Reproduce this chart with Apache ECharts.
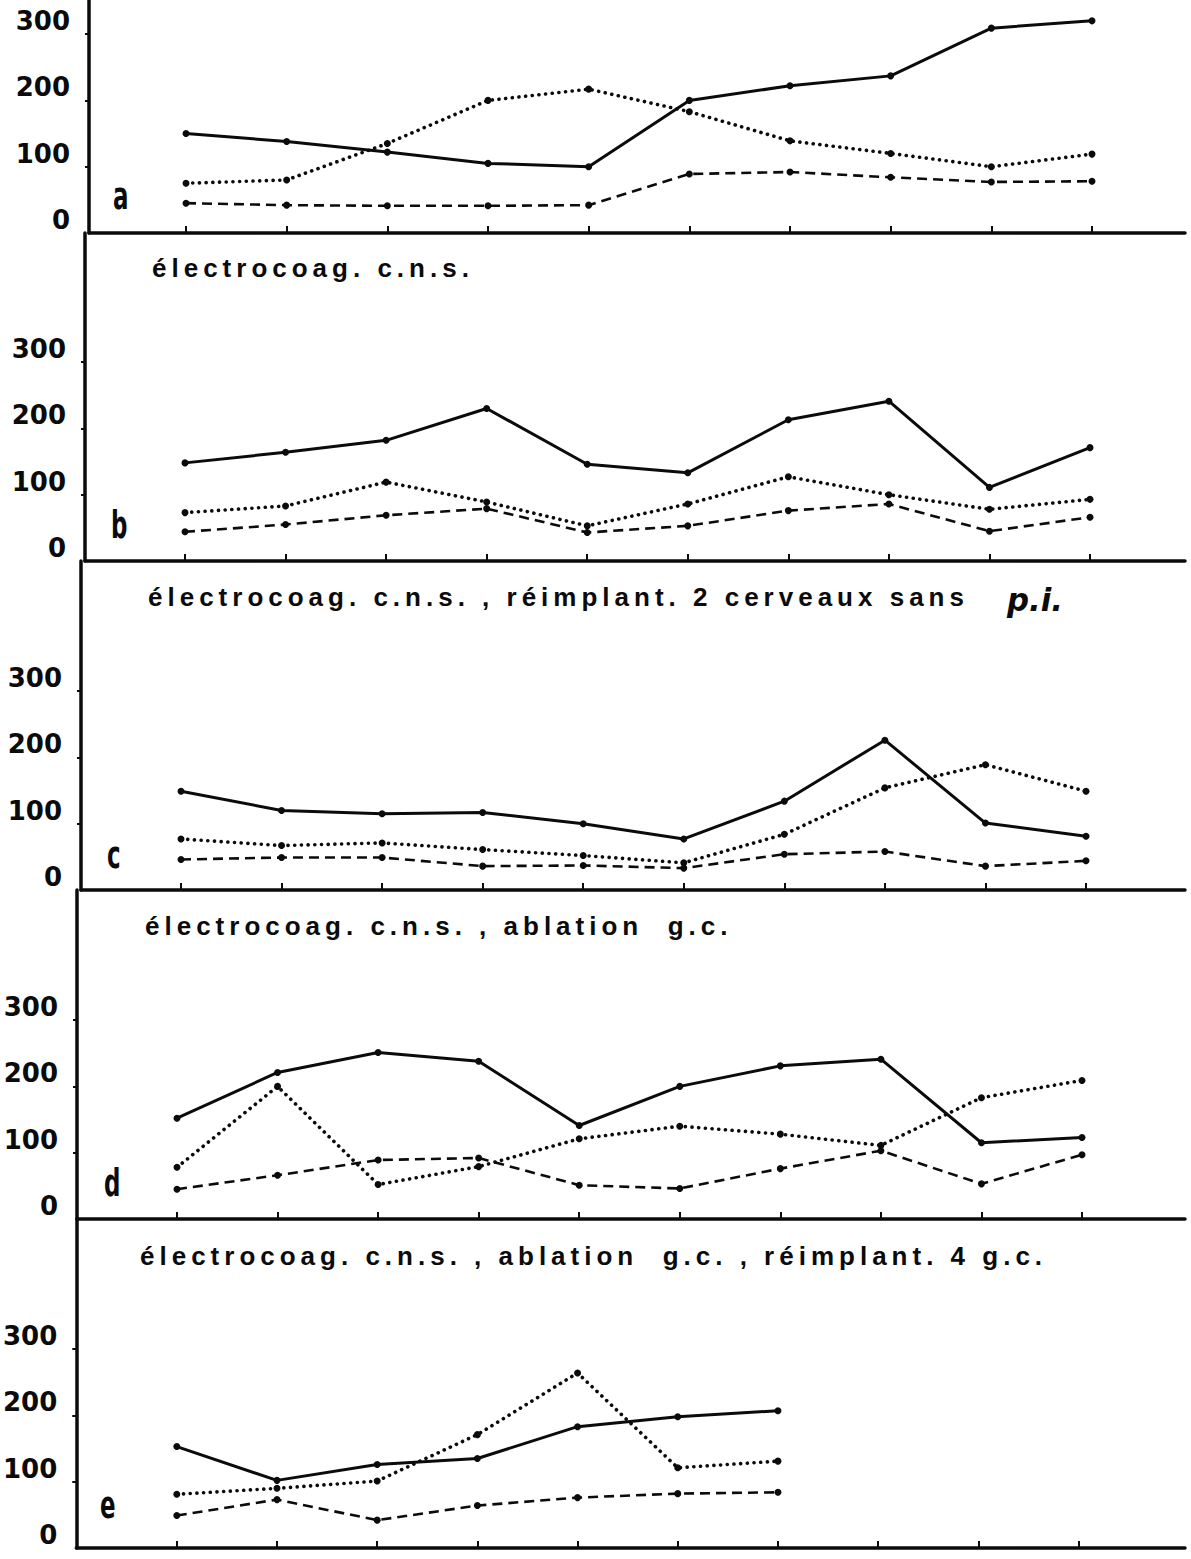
<!DOCTYPE html>
<html>
<head>
<meta charset="utf-8">
<script src="https://cdn.jsdelivr.net/npm/echarts@6/dist/echarts.min.js"></script>
<style>
  html, body { margin: 0; padding: 0; background: #fff; }
  #chart { width: 1191px; height: 1559px; }
  /* the panel captions are typeset with wide tracking */
  #chart text[style*="Liberation Sans"] { letter-spacing: 5px; }
</style>
</head>
<body>
<div id="chart"></div>
<script>
// Successive measurements (x positions) and the value ticks shown on every panel
const steps = [0, 1, 2, 3, 4, 5, 6, 7, 8, 9];
const yTicks = [0, 100, 200, 300];

// Panel a
const solidA  = [150, 138, 122, 105, 100, 200, 222, 237, 309, 320];
const dottedA = [75, 80, 135, 200, 217, 183, 139, 120, 100, 119];
const dashedA = [45, 42, 41, 41, 42, 89, 92, 84, 77, 78];

// Panel b
const solidB  = [148, 164, 182, 230, 146, 133, 213, 241, 111, 171];
const dottedB = [73, 83, 119, 89, 53, 86, 127, 100, 78, 93];
const dashedB = [44, 55, 69, 79, 43, 53, 76, 86, 45, 66];

// Panel c
const solidC  = [149, 120, 115, 117, 100, 77, 134, 226, 101, 81];
const dottedC = [77, 67, 71, 61, 52, 41, 84, 154, 189, 149];
const dashedC = [46, 49, 49, 36, 37, 33, 54, 58, 36, 44];

// Panel d
const solidD  = [152, 221, 251, 238, 141, 200, 231, 241, 115, 123];
const dottedD = [78, 200, 52, 79, 121, 140, 128, 111, 183, 209];
const dashedD = [45, 66, 89, 92, 51, 46, 76, 103, 53, 97];

// Panel e (only seven measurements)
const solidE  = [153, 102, 126, 135, 183, 198, 207];
const dottedE = [81, 90, 101, 171, 264, 121, 131];
const dashedE = [49, 73, 42, 64, 76, 82, 84];

const panelLetters = ['a', 'b', 'c', 'd', 'e'];
const captionTexts = [
  'électrocoag. c.n.s.',
  'électrocoag. c.n.s. , réimplant. 2 cerveaux sans',
  'électrocoag. c.n.s. , ablation  g.c.',
  'électrocoag. c.n.s. , ablation  g.c. , réimplant. 4 g.c.'
];
const captionItalic = 'p.i.';

const panelSeries = [
  [solidA, dottedA, dashedA],
  [solidB, dottedB, dashedB],
  [solidC, dottedC, dashedC],
  [solidD, dottedD, dashedD],
  [solidE, dottedE, dashedE]
];

// ---- layout (pixels) ----
const RIGHT_EDGE = 1185, PX_PER_UNIT = 0.663;
const layout = [
  { top: 0,    base: 233,  axisX: 89, first: 186, last: 1092 },
  { top: 233,  base: 561,  axisX: 85, first: 185, last: 1090 },
  { top: 561,  base: 890,  axisX: 81, first: 181, last: 1086 },
  { top: 890,  base: 1219, axisX: 77, first: 177, last: 1082 },
  { top: 1219, base: 1548, axisX: 71, first: 172, last: 1078 }
];
const letterPos = [
  { x: 113, y: 214 }, { x: 111, y: 543 }, { x: 107, y: 873 },
  { x: 104, y: 1201 }, { x: 100, y: 1523 }
];
const captionPos = [
  { x: 152, y: 268 },
  { x: 148, y: 597 },
  { x: 145, y: 926 },
  { x: 140, y: 1256 }
];

const INK = '#0b0b0b';
const capFont = 'bold 26px "Liberation Sans", sans-serif';

const measureCtx = document.createElement('canvas').getContext('2d');
function textWidth(text, font) {
  measureCtx.font = font;
  return measureCtx.measureText(text).width;
}

const grids = [], xAxes = [], yAxes = [], series = [];
const lineKinds = [
  { width: 3, type: 'solid' },
  { width: 3.6, type: [0.1, 6.6], cap: 'round' },
  { width: 2.6, type: [10, 6] }
];

layout.forEach((L, k) => {
  const step = (L.last - L.first) / 9;
  const xMin = -(L.first - L.axisX) / step;
  const xMax = xMin + (RIGHT_EDGE - L.axisX) / step;
  grids.push({ left: L.axisX, top: L.top, width: RIGHT_EDGE - L.axisX, height: L.base - L.top });
  xAxes.push({
    gridIndex: k, type: 'value', min: xMin, max: xMax,
    axisLine: { onZero: false, lineStyle: { color: INK, width: 3.5 } },
    axisTick: { show: true, inside: true, length: 7, customValues: steps, lineStyle: { color: INK, width: 2 } },
    axisLabel: { show: false },
    splitLine: { show: false }
  });
  yAxes.push({
    gridIndex: k, type: 'value', min: 0, max: (L.base - L.top) / PX_PER_UNIT,
    axisLine: { show: true, onZero: false, lineStyle: { color: INK, width: 3.5 } },
    axisTick: { show: true, length: 4, customValues: yTicks.slice(1), lineStyle: { color: INK, width: 2 } },
    axisLabel: {
      customValues: yTicks, margin: 19, verticalAlign: 'bottom',
      fontSize: 26, fontWeight: 'bold', fontFamily: '"DejaVu Sans", sans-serif', color: INK
    },
    splitLine: { show: false }
  });
  panelSeries[k].forEach((vals, s) => {
    const kind = lineKinds[s];
    series.push({
      type: 'line', xAxisIndex: k, yAxisIndex: k,
      data: vals.map((v, i) => [steps[i], v]),
      symbol: 'circle', symbolSize: 7,
      itemStyle: { color: INK },
      lineStyle: { color: INK, width: kind.width, type: kind.type, cap: kind.cap || 'butt' },
      silent: true, animation: false, z: 3
    });
  });
});

const graphics = [];
panelLetters.forEach((ch, k) => {
  graphics.push({
    type: 'text', x: letterPos[k].x, y: letterPos[k].y, scaleX: 0.62,
    style: {
      text: ch, fill: INK, font: 'bold 37px "DejaVu Sans", sans-serif',
      align: 'left', verticalAlign: 'bottom'
    }
  });
});
captionTexts.forEach((t, k) => {
  const p = captionPos[k];
  graphics.push({
    type: 'text', x: p.x, y: p.y,
    style: { text: t, fill: INK, font: capFont, align: 'left', verticalAlign: 'middle' }
  });
});
// italic tail of the second caption
{
  const f = 'oblique bold 32px "DejaVu Sans", sans-serif';
  const sx = 56 / textWidth(captionItalic, f);
  graphics.push({
    type: 'text', x: 1007, y: 600, scaleX: sx,
    style: { text: captionItalic, fill: INK, font: f, align: 'left', verticalAlign: 'middle' }
  });
}

const chart = echarts.init(document.getElementById('chart'), null, { renderer: 'svg' });
chart.setOption({
  backgroundColor: '#ffffff',
  animation: false,
  grid: grids,
  xAxis: xAxes,
  yAxis: yAxes,
  series: series,
  graphic: graphics
});
</script>
</body>
</html>
